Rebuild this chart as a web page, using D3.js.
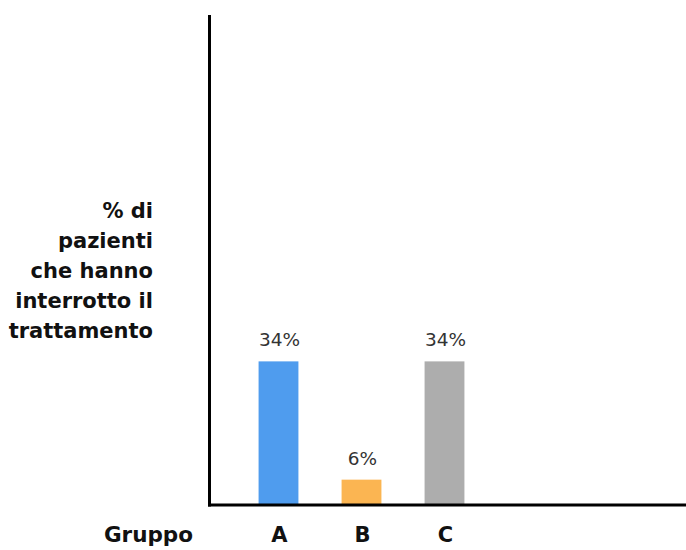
<!DOCTYPE html>
<html>
<head>
<meta charset="utf-8">
<script src="https://cdn.jsdelivr.net/npm/d3@7"></script>
<style>
  html, body { margin: 0; padding: 0; background: #fff; }
  #chart { width: 686px; height: 550px; }
</style>
</head>
<body>
<div id="chart"></div>
<script>
// Pazienti che hanno interrotto il trattamento, per gruppo
const groups = ["A", "B", "C"];
const values = [34, 6, 34];
const colors = ["#4f9cee", "#fbb552", "#adadad"];
const yLabelLines = ["% di", "pazienti", "che hanno", "interrotto il", "trattamento"];
const xTitle = "Gruppo";

(() => {
    const W = 686, H = 550;
    const svg = d3.select("#chart").append("svg").attr("width", W).attr("height", H);

    const x = d3.scaleBand().domain(groups).range([237, 486])
        .paddingInner(0.52).paddingOuter(0.26);
    const y = d3.scaleLinear().domain([0, 116]).range([505, 15]);

    // bars
    svg.selectAll("rect.bar")
        .data(groups)
        .join("rect")
        .attr("class", "bar")
        .attr("x", d => x(d))
        .attr("width", x.bandwidth())
        .attr("y", (d, i) => y(values[i]))
        .attr("height", (d, i) => y(0) - y(values[i]))
        .attr("fill", (d, i) => colors[i]);

    // value labels
    svg.selectAll("text.val")
        .data(groups)
        .join("text")
        .attr("class", "val")
        .attr("x", d => x(d) + x.bandwidth() / 2 + 1)
        .attr("y", (d, i) => y(values[i]) - 15)
        .attr("text-anchor", "middle")
        .attr("font-family", "DejaVu Sans")
        .attr("font-size", 18.5)
        .attr("fill", "#333")
        .text((d, i) => values[i] + "%");

    // axes lines
    const x0 = 209.5;
    svg.append("line").attr("x1", x0).attr("x2", x0).attr("y1", y.range()[1]).attr("y2", y(0) + 1.5)
        .attr("stroke", "#000").attr("stroke-width", 3);
    svg.append("line").attr("x1", x0 - 1.5).attr("x2", 686).attr("y1", y(0)).attr("y2", y(0))
        .attr("stroke", "#000").attr("stroke-width", 3);

    // category labels
    svg.selectAll("text.cat")
        .data(groups)
        .join("text")
        .attr("class", "cat")
        .attr("x", d => x(d) + x.bandwidth() / 2 + 1)
        .attr("y", 542)
        .attr("text-anchor", "middle")
        .attr("font-family", "DejaVu Sans")
        .attr("font-weight", "bold")
        .attr("font-size", 21)
        .attr("fill", "#111")
        .text(d => d);

    svg.append("text")
        .attr("x", 193).attr("y", 542)
        .attr("text-anchor", "end")
        .attr("font-family", "DejaVu Sans")
        .attr("font-weight", "bold")
        .attr("font-size", 21.5)
        .attr("fill", "#111")
        .text(xTitle);

    // y label, right aligned
    svg.append("text")
        .attr("text-anchor", "end")
        .attr("font-family", "DejaVu Sans")
        .attr("font-weight", "bold")
        .attr("font-size", 21)
        .attr("fill", "#111")
        .selectAll("tspan")
        .data(yLabelLines)
        .join("tspan")
        .attr("x", 153)
        .attr("y", (d, i) => 218 + i * 30)
        .text(d => d);
})();
</script>
</body>
</html>
